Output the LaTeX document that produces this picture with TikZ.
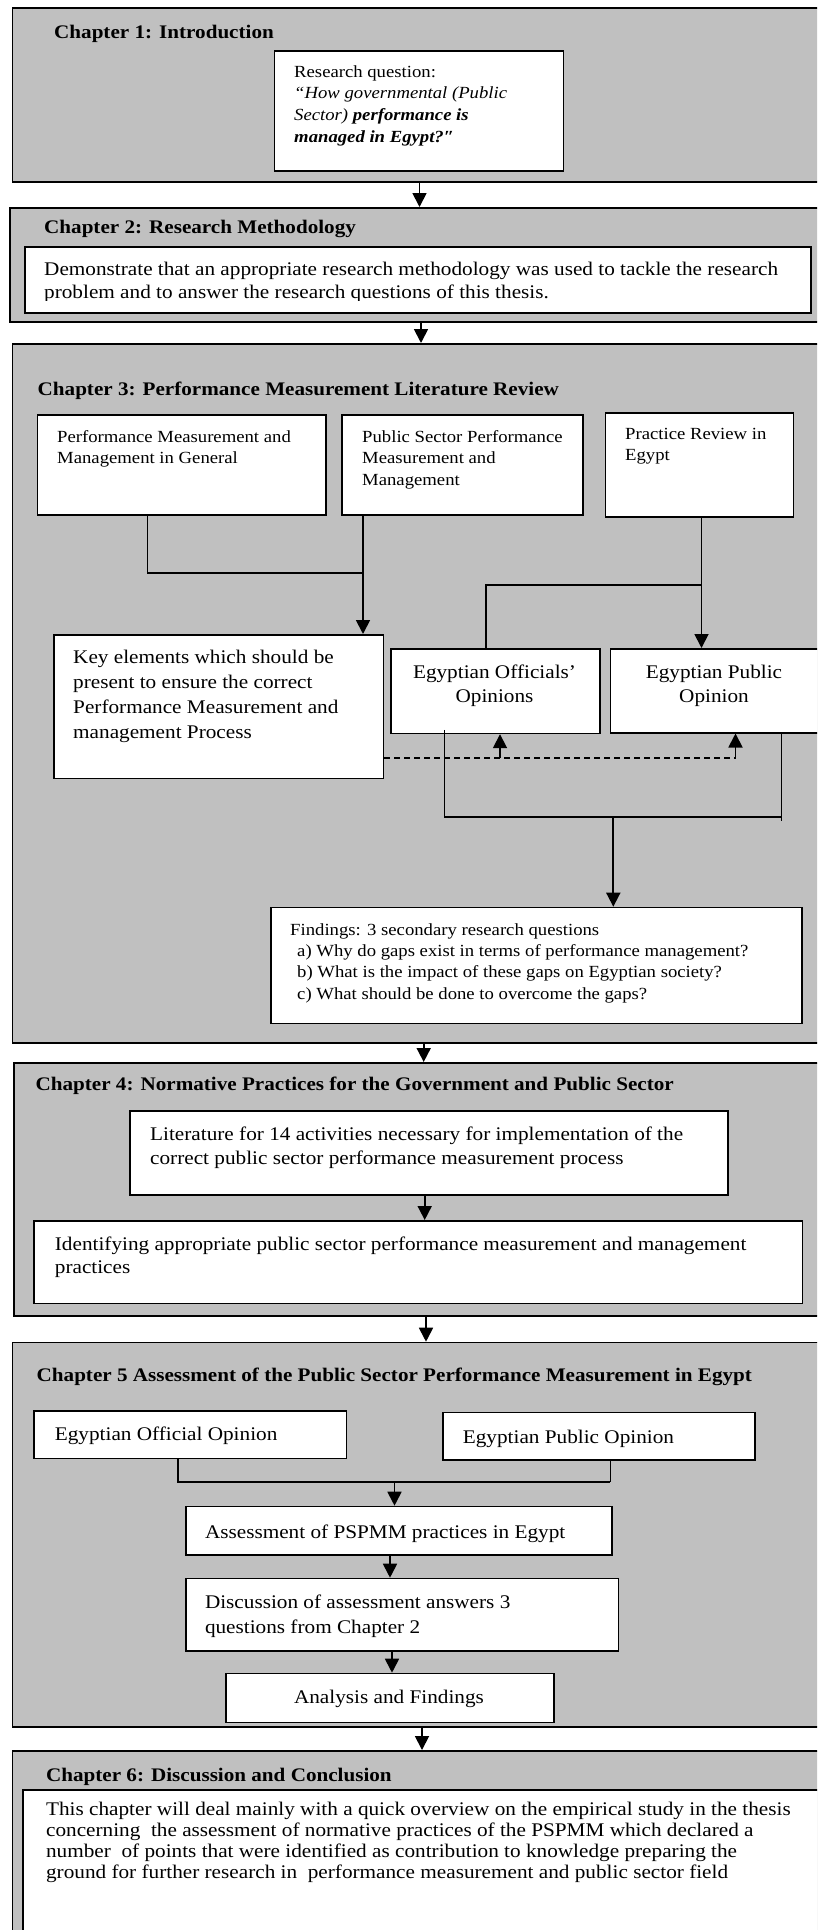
\documentclass[tikz,border=0pt]{standalone}
\usepackage{fontspec}
\setmainfont{Liberation Serif}[FakeStretch=1.1]
\usetikzlibrary{arrows.meta,calc}
\definecolor{chapfill}{RGB}{192,192,192}
\begin{document}
\begin{tikzpicture}[x=1pt,y=-1pt,
  chapter/.style={draw=black, fill=chapfill, line width=1.5pt, anchor=north west, inner sep=0pt},
  wbox/.style={draw=black, fill=white, line width=1.5pt, anchor=north west, inner sep=0pt},
  title/.style={anchor=base west, inner sep=0pt, font=\fontsize{19.2}{23}\bfseries\selectfont},
  smalltext/.style={anchor=north west, inner sep=0pt, align=left, font=\fontsize{17}{#1}\selectfont},
  bodytext/.style={anchor=north west, inner sep=0pt, align=left, font=\fontsize{19.3}{#1}\selectfont},
  ctext/.style={anchor=north, inner sep=0pt, align=center, font=\fontsize{19.3}{#1}\selectfont},
  oneline/.style={anchor=base west, inner sep=0pt, font=\fontsize{19.3}{23}\selectfont},
  conn/.style={line width=1.8pt},
  thinconn/.style={line width=1pt},
  dashedconn/.style={line width=1.6pt, dash pattern=on 6pt off 4pt},
  arr/.style={line width=1.8pt, -{Triangle[length=14pt,width=14pt]}}
]
\useasboundingbox (0,0) rectangle (817,1930);
\clip (0,0) rectangle (817,1930);

% ---------- Chapter 1 ----------
\node[chapter, minimum width=820pt, minimum height=174pt] (ch1) at (11.5,7) {};
\node[title] (ch1t) at (54,38) {Chapter 1: Introduction};
\node[wbox, minimum width=289.2pt, minimum height=120pt] (rq) at (273.6,50) {};
\node[smalltext=21.6] (rqt) at (294,61.9) {\strut Research question:\\
  \textit{“How governmental (Public}\\
  \textit{Sector)} \textbf{\textit{performance is}}\\
  \textbf{\textit{managed in Egypt?″}}};

% ---------- Chapter 2 ----------
\node[chapter, minimum width=822pt, minimum height=114pt] (ch2) at (9.4,207) {};
\node[title] (ch2t) at (44,233) {Chapter 2: Research Methodology};
\node[wbox, minimum width=786pt, minimum height=66pt] (dm) at (24,246) {};
\begin{scope}
  \clip (24,246) rectangle (810,300);
  \node[bodytext=23] (dmt) at (44,258.9) {\strut Demonstrate that an appropriate research methodology was used to tackle the research\\
    problem and to answer the research questions of this thesis.};
\end{scope}

% ---------- Chapter 3 ----------
\node[chapter, minimum width=820pt, minimum height=699pt] (ch3) at (11.5,343) {};
\node[title] (ch3t) at (37.5,395) {Chapter 3: Performance Measurement Literature Review};
\node[wbox, minimum width=288.5pt, minimum height=100pt] (pmg) at (36.5,414) {};
\node[wbox, minimum width=241pt, minimum height=100pt] (psp) at (341,414) {};
\node[wbox, minimum width=188.1pt, minimum height=104pt] (pre) at (604.5,412) {};
\node[wbox, minimum width=329.5pt, minimum height=143.7pt] (key) at (53,634) {};
\node[wbox, minimum width=209pt, minimum height=84.7pt] (off) at (390,648) {};
\node[wbox, minimum width=210pt, minimum height=84pt] (pub) at (609.5,648) {};
\node[wbox, minimum width=531pt, minimum height=116pt] (fin) at (270,906.7) {};

\node[smalltext=21.6] (pmgt) at (57,426.9) {\strut Performance Measurement and\\ Management in General};
\node[smalltext=21.6] (pspt) at (362,426.9) {\strut Public Sector Performance\\ Measurement and\\ Management};
\node[smalltext=21.6] (pret) at (625,423.9) {\strut Practice Review in\\ Egypt};
\node[bodytext=25] (keyt) at (73,645.5) {\strut Key elements which should be\\ present to ensure the correct\\ Performance Measurement and\\ management Process};
\node[ctext=24] (offt) at (494.5,661.2) {\strut Egyptian Officials’\\ Opinions};
\node[ctext=24] (pubt) at (714,661.2) {\strut Egyptian Public\\ Opinion};
\node[smalltext=21.3] (fint) at (290,920.1) {\strut Findings: 3 secondary research questions\\
  \hspace*{7pt}a) Why do gaps exist in terms of performance management?\\
  \hspace*{7pt}b) What is the impact of these gaps on Egyptian society?\\
  \hspace*{7pt}c) What should be done to overcome the gaps?};

% literature streams into the key elements
\coordinate (j1) at (147.5,573);
\coordinate (j2) at (363,573);
\draw[conn] (pmg.south -| j1) -- (j1) -- (j2);
\draw[arr] (psp.south -| j2) -- (key.north -| j2);
% practice review feeds both opinion surveys
\coordinate (j3) at (701.5,585);
\coordinate (j4) at (485.7,585);
\draw[arr] (pre.south -| j3) -- (pub.north -| j3);
\draw[conn] (j3) -- (j4) -- (off.north -| j4);
% key elements checked against the opinions
\coordinate (d1) at (500,757.7);
\coordinate (d2) at (735.5,757.7);
\draw[dashedconn] (key.east |- d1) -- (d2);
\draw[arr] (d1) -- (off.south -| d1);
\draw[arr] (d2) -- (pub.south -| d2);
% opinions merge into the findings
\coordinate (k1) at (444.5,816.7);
\coordinate (k2) at (781.6,816.7);
\coordinate (k3) at (613.3,816.7);
\coordinate (k0) at ($(off.south -| k1)+(0,-4.4)$);
\coordinate (k4) at ($(k2)+(0,4)$);
\draw[conn] (k0) -- (k1) -- (k2);
\draw[thinconn] (pub.south -| k2) -- (k4);
\draw[arr] (k3) -- (fin.north -| k3);

% ---------- Chapter 4 ----------
\node[chapter, minimum width=818pt, minimum height=253pt] (ch4) at (13,1062) {};
\node[title] (ch4t) at (35.4,1090.7) {Chapter 4: Normative Practices for the Government and Public Sector};
\node[wbox, minimum width=598pt, minimum height=84pt] (lit) at (129,1110) {};
\node[wbox, minimum width=768.5pt, minimum height=82.7pt] (idn) at (33,1220) {};
\node[bodytext=24] (litt) at (150,1123.2) {\strut Literature for 14 activities necessary for implementation of the\\ correct public sector performance measurement process};
\node[bodytext=23] (idnt) at (54.7,1233.9) {\strut Identifying appropriate public sector performance measurement and management\\ practices};
\coordinate (x4) at (424.7,0);
\draw[arr] (lit.south -| x4) -- (idn.north -| x4);

% ---------- Chapter 5 ----------
\node[chapter, minimum width=820pt, minimum height=384.3pt] (ch5) at (11.5,1341.7) {};
\node[title] (ch5t) at (36.5,1381.7) {Chapter 5 Assessment of the Public Sector Performance Measurement in Egypt};
\node[wbox, minimum width=312.5pt, minimum height=47.7pt] (oo) at (33,1410) {};
\node[wbox, minimum width=312pt, minimum height=47.3pt] (po) at (442,1411.7) {};
\node[wbox, minimum width=426pt, minimum height=48.3pt] (as) at (185,1505.7) {};
\node[wbox, minimum width=432.5pt, minimum height=72.3pt] (ds) at (185,1577.7) {};
\node[wbox, minimum width=328.4pt, minimum height=49pt] (an) at (225,1672.7) {};
\node[oneline] (oot) at (54.7,1440.7) {Egyptian Official Opinion};
\node[oneline] (pot) at (462.7,1443) {Egyptian Public Opinion};
\node[oneline] (ast) at (204.8,1538) {Assessment of PSPMM practices in Egypt};
\node[bodytext=25] (dst) at (204.8,1590.5) {\strut Discussion of assessment answers 3\\ questions from Chapter 2};
\node[oneline, anchor=base] (ant) at (389,1703) {Analysis and Findings};
\coordinate (m1) at (178,1482.3);
\coordinate (m2) at (610,1482.3);
\coordinate (m3) at (394.5,1482.3);
\draw[conn] (oo.south -| m1) -- (m1) -- (m2);
\draw[thinconn] (po.south -| m2) -- (m2);
\draw[arr] (m3) -- (as.north -| m3);
\coordinate (x5a) at (390,0);
\coordinate (x5b) at (392,0);
\draw[arr] (as.south -| x5a) -- (ds.north -| x5a);
\draw[arr] (ds.south -| x5b) -- (an.north -| x5b);

% ---------- Chapter 6 ----------
\node[chapter, minimum width=820pt, minimum height=200pt] (ch6) at (11.5,1750) {};
\node[title] (ch6t) at (45.9,1781.7) {Chapter 6: Discussion and Conclusion};
\node[wbox, minimum width=810pt, minimum height=160pt] (cc) at (22,1789) {};
\node[bodytext=21] (cct) at (45.9,1800.3) {\strut This chapter will deal mainly with a quick overview on the empirical study in the thesis\\
  concerning \ the assessment of normative practices of the PSPMM which declared a\\
  number \ of points that were identified as contribution to knowledge preparing the\\
  ground for further research in \ performance measurement and public sector field};

% ---------- flow between chapters ----------
\coordinate (x12) at (419.5,0);
\coordinate (x23) at (421,0);
\coordinate (x34) at (423.7,0);
\coordinate (x45) at (426,0);
\coordinate (x56) at (422,0);
\draw[arr] (ch1.south -| x12) -- (ch2.north -| x12);
\draw[arr] (ch2.south -| x23) -- (ch3.north -| x23);
\draw[arr] (ch3.south -| x34) -- (ch4.north -| x34);
\draw[arr] (ch4.south -| x45) -- (ch5.north -| x45);
\draw[arr] (ch5.south -| x56) -- (ch6.north -| x56);
\end{tikzpicture}
\end{document}
